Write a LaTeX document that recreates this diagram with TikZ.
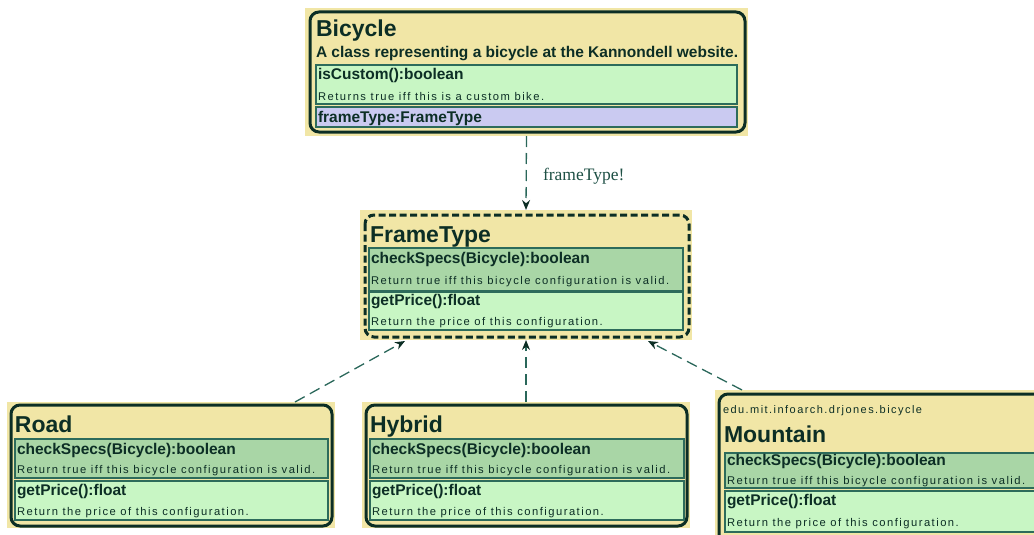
\documentclass[tikz,border=0pt]{standalone}
\usepackage{fontspec}
\setmainfont{Liberation Sans}
\newfontfamily\descfont[LetterSpace=13.2]{Liberation Sans}
\newfontfamily\rolefont{Liberation Serif}
\usetikzlibrary{arrows.meta,calc}

\definecolor{classfill}{HTML}{F1E6A6}
\definecolor{opfill}{HTML}{C8F6C4}
\definecolor{opdarkfill}{HTML}{A9D6A6}
\definecolor{attrfill}{HTML}{CACAF1}
\definecolor{ink}{HTML}{0C2E25}
\definecolor{cellline}{HTML}{2D6B5B}
\definecolor{linkline}{HTML}{2A675A}

\tikzset{
  classbg/.style={fill=classfill, draw=none, inner sep=0pt, outer sep=0pt, anchor=north west},
  classframe/.style={draw=ink, line width=3pt, rounded corners=9pt},
  abstractframe/.style={classframe, dash pattern=on 7pt off 3.5pt},
  cell/.style={draw=cellline, line width=1.1pt, inner sep=0pt, outer sep=0pt, anchor=north west},
  opcell/.style={cell, fill=opfill},
  opdarkcell/.style={cell, fill=opdarkfill},
  attrcell/.style={cell, fill=attrfill},
  txt/.style={anchor=base west, inner sep=0pt, outer sep=0pt, text=ink},
  classname/.style={txt, font=\fontsize{23}{27}\selectfont\bfseries},
  classnote/.style={txt, font=\fontsize{15.5}{18}\selectfont\bfseries},
  member/.style={txt, font=\fontsize{15.5}{18}\selectfont\bfseries},
  membernote/.style={txt, font=\fontsize{11.2}{13}\selectfont\descfont},
  pkgname/.style={txt, font=\fontsize{11}{13}\selectfont\descfont},
  dep/.style={draw=linkline, line width=1.3pt, dash pattern=on 11pt off 6pt,
    -{Stealth[length=10pt,width=8pt,fill=ink,color=ink]}},
  rolelabel/.style={txt, font=\fontsize{17.5}{20}\selectfont\rolefont, text=linkline!60!ink},
}

\begin{document}
\begin{tikzpicture}[x=1pt, y=-1pt]
  \useasboundingbox (0,0) rectangle (1034,535);
  \clip (0,0) rectangle (1034,535);

  % Bicycle
  \node[classbg, minimum width=443pt, minimum height=128pt] (bicycle) at (305,8) {};
  \draw[classframe] (310,12) rectangle (745,132);
  \node[classname] (bicycle-name) at (316,37) {Bicycle};
  \node[classnote] (bicycle-note) at (316,58) {A class representing a bicycle at the Kannondell website.};
  \node[opcell, minimum width=421pt, minimum height=39pt] (bicycle-op) at (316,65) {};
  \node[member] (bicycle-op-sig) at (318,80) {isCustom():boolean};
  \node[membernote] (bicycle-op-doc) at (318,100) {Returns true iff this is a custom bike.};
  \node[attrcell, minimum width=421pt, minimum height=20pt] (bicycle-attr) at (316,107) {};
  \node[member] (bicycle-attr-sig) at (318,122) {frameType:FrameType};

  % FrameType (abstract)
  \node[classbg, minimum width=332pt, minimum height=130pt] (frametype) at (360,210) {};
  \draw[abstractframe] (365,215) rectangle (689,337);
  \node[classname] (frametype-name) at (370,242) {FrameType};
  \node[opdarkcell, minimum width=314pt, minimum height=43pt] (frametype-op1) at (369,248) {};
  \node[member] (frametype-op1-sig) at (371,263) {checkSpecs(Bicycle):boolean};
  \node[membernote] (frametype-op1-doc) at (371,284) {Return true iff this bicycle configuration is valid.};
  \node[opcell, minimum width=314pt, minimum height=38pt] (frametype-op2) at (369,292) {};
  \node[member] (frametype-op2-sig) at (371,305) {getPrice():float};
  \node[membernote] (frametype-op2-doc) at (371,325) {Return the price of this configuration.};

  % Road
  \node[classbg, minimum width=328pt, minimum height=126pt] (road) at (7,402) {};
  \draw[classframe] (11,405) rectangle (332,526);
  \node[classname] (road-name) at (15,432) {Road};
  \node[opdarkcell, minimum width=313pt, minimum height=39pt] (road-op1) at (15,439) {};
  \node[member] (road-op1-sig) at (17,454) {checkSpecs(Bicycle):boolean};
  \node[membernote] (road-op1-doc) at (17,473) {Return true iff this bicycle configuration is valid.};
  \node[opcell, minimum width=313pt, minimum height=39pt] (road-op2) at (15,481) {};
  \node[member] (road-op2-sig) at (17,495) {getPrice():float};
  \node[membernote] (road-op2-doc) at (17,515) {Return the price of this configuration.};

  % Hybrid
  \node[classbg, minimum width=328pt, minimum height=126pt] (hybrid) at (362,402) {};
  \draw[classframe] (366,405) rectangle (687,526);
  \node[classname] (hybrid-name) at (370,432) {Hybrid};
  \node[opdarkcell, minimum width=314pt, minimum height=39pt] (hybrid-op1) at (370,439) {};
  \node[member] (hybrid-op1-sig) at (372,454) {checkSpecs(Bicycle):boolean};
  \node[membernote] (hybrid-op1-doc) at (372,473) {Return true iff this bicycle configuration is valid.};
  \node[opcell, minimum width=314pt, minimum height=39pt] (hybrid-op2) at (370,481) {};
  \node[member] (hybrid-op2-sig) at (372,495) {getPrice():float};
  \node[membernote] (hybrid-op2-doc) at (372,515) {Return the price of this configuration.};

  % Mountain (runs past the page edge)
  \node[classbg, minimum width=340pt, minimum height=160pt] (mountain) at (715,390) {};
  \draw[classframe] (719,394) rectangle (1060,560);
  \node[pkgname] (mountain-pkg) at (723,413) {edu.mit.infoarch.drjones.bicycle};
  \node[classname] (mountain-name) at (724,442) {Mountain};
  \node[opdarkcell, minimum width=330pt, minimum height=35pt] (mountain-op1) at (725,453) {};
  \node[member] (mountain-op1-sig) at (727,465) {checkSpecs(Bicycle):boolean};
  \node[membernote] (mountain-op1-doc) at (727,484) {Return true iff this bicycle configuration is valid.};
  \node[opcell, minimum width=330pt, minimum height=41pt] (mountain-op2) at (725,491) {};
  \node[member] (mountain-op2-sig) at (727,505) {getPrice():float};
  \node[membernote] (mountain-op2-doc) at (727,526) {Return the price of this configuration.};

  % Connectors
  \coordinate (road-link) at (295,402);
  \coordinate (frametype-left) at (405,341);
  \coordinate (mountain-link) at (742,390);
  \coordinate (frametype-right) at (648,341);

  \draw[dep] (bicycle.south) -- (frametype.north);
  \node[rolelabel] (role) at (543,180) {frameType!};
  \draw[dep] (hybrid.north) -- (frametype.south);
  \draw[dep] (road-link) -- (frametype-left);
  \draw[dep] (mountain-link) -- (frametype-right);
\end{tikzpicture}
\end{document}
